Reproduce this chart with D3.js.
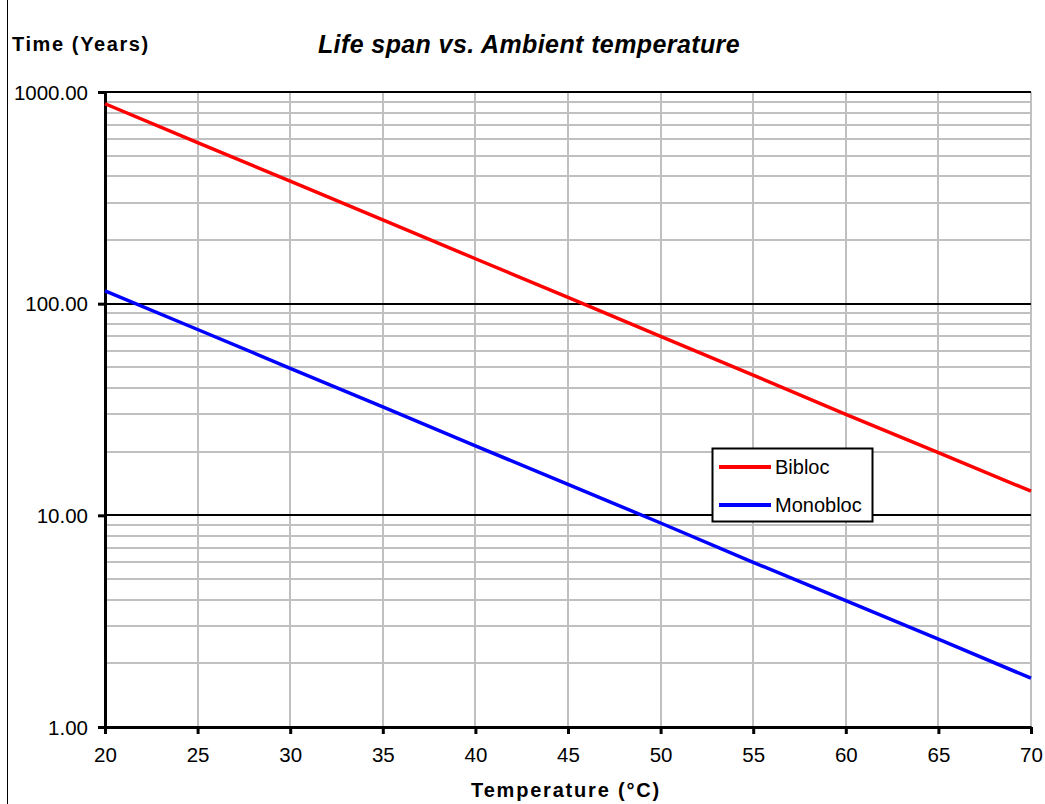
<!DOCTYPE html>
<html>
<head>
<meta charset="utf-8">
<script src="https://cdn.jsdelivr.net/npm/d3@7"></script>
<style>
  body { margin: 0; background: #fff; }
  text { font-family: "Liberation Sans", Arial, sans-serif; }
</style>
</head>
<body>
<script>
// data
var temps = [20, 25, 30, 35, 40, 45, 50, 55, 60, 65, 70];
var bibloc = [880, 577, 379, 249, 163, 107, 70, 46, 30, 19.8, 13];
var monobloc = [115, 75.5, 49.5, 32.5, 21.3, 14, 9.2, 6.0, 3.95, 2.6, 1.7];
var seriesNames = ["Bibloc", "Monobloc"];
var seriesColors = ["#ff0000", "#0000ff"];
var yTicks = [1, 10, 100, 1000];
var xTicks = [20, 25, 30, 35, 40, 45, 50, 55, 60, 65, 70];

var W = 1045, H = 804;
var margin = {top: 92, right: 14, bottom: 77, left: 105},
    width = W - margin.left - margin.right,
    height = H - margin.top - margin.bottom;

var svg = d3.select("body").append("svg")
    .attr("width", W)
    .attr("height", H);

// left frame edge
svg.append("line")
    .attr("x1", 7.5).attr("x2", 7.5)
    .attr("y1", 0).attr("y2", H)
    .attr("stroke", "#000").attr("stroke-width", 1);

var g = svg.append("g")
    .attr("transform", "translate(" + margin.left + "," + margin.top + ")");

var x = d3.scaleLinear().domain([20, 70]).range([0, width]);
var y = d3.scaleLog().domain([1, 1000]).range([height, 0]);

// minor horizontal grid
var minor = [];
[1, 10, 100].forEach(function(d) {
  for (var k = 2; k <= 9; k++) minor.push(d * k);
});
g.selectAll(".hminor").data(minor).enter().append("line")
    .attr("x1", 0).attr("x2", width)
    .attr("y1", function(d) { return Math.round(y(d)); })
    .attr("y2", function(d) { return Math.round(y(d)); })
    .attr("stroke", "#c0c0c0").attr("stroke-width", 2);

// vertical grid
g.selectAll(".vgrid").data(xTicks.slice(1)).enter().append("line")
    .attr("x1", function(d) { return Math.round(x(d)); })
    .attr("x2", function(d) { return Math.round(x(d)); })
    .attr("y1", 0).attr("y2", height)
    .attr("stroke", "#c0c0c0").attr("stroke-width", 2);

// major horizontal grid
g.selectAll(".hmajor").data(yTicks.slice(1)).enter().append("line")
    .attr("x1", 0).attr("x2", width)
    .attr("y1", function(d) { return Math.round(y(d)); })
    .attr("y2", function(d) { return Math.round(y(d)); })
    .attr("stroke", "#000").attr("stroke-width", 2);

// axes
var xAxis = g.append("g")
    .attr("transform", "translate(0," + height + ")")
    .call(d3.axisBottom(x).tickValues(xTicks).tickSize(7).tickSizeOuter(0).tickPadding(13));
var yAxis = g.append("g")
    .call(d3.axisLeft(y).tickValues(yTicks).tickFormat(d3.format(".2f")).tickSize(7).tickSizeOuter(0).tickPadding(10));

[xAxis, yAxis].forEach(function(a) {
  a.select(".domain").attr("stroke", "#000").attr("stroke-width", 3);
  a.selectAll(".tick line").attr("stroke", "#000").attr("stroke-width", 3);
  a.selectAll(".tick text")
      .attr("fill", "#000")
      .style("font-size", "20.5px")
      .style("font-family", "'Liberation Sans', Arial, sans-serif");
});
yAxis.selectAll(".tick text").attr("dy", "0.35em");

// lines
var line = d3.line()
    .x(function(d) { return x(d[0]); })
    .y(function(d) { return y(d[1]); });

[bibloc, monobloc].forEach(function(vals, i) {
  g.append("path")
      .datum(temps.map(function(t, j) { return [t, vals[j]]; }))
      .attr("fill", "none")
      .attr("stroke", seriesColors[i])
      .attr("stroke-width", 3.5)
      .attr("d", line);
});

// legend
var lg = svg.append("g").attr("transform", "translate(712,448)");
lg.append("rect")
    .attr("x", 0.5).attr("y", 0.5)
    .attr("width", 160).attr("height", 73)
    .attr("fill", "#fff").attr("stroke", "#000").attr("stroke-width", 2);
seriesNames.forEach(function(name, i) {
  var yy = 19 + i * 38;
  lg.append("line")
      .attr("x1", 7).attr("x2", 59)
      .attr("y1", yy).attr("y2", yy)
      .attr("stroke", seriesColors[i]).attr("stroke-width", 4);
  lg.append("text")
      .attr("x", 63).attr("y", yy)
      .attr("dy", "0.35em")
      .style("font-size", "20px")
      .text(name);
});

// titles
svg.append("text")
    .attr("x", 529).attr("y", 53)
    .attr("text-anchor", "middle")
    .style("font-size", "25px")
    .style("font-weight", "bold")
    .style("font-style", "italic")
    .style("letter-spacing", "0.4px")
    .text("Life span vs. Ambient temperature");

svg.append("text")
    .attr("x", 12).attr("y", 51)
    .style("font-size", "20px")
    .style("font-weight", "bold")
    .style("letter-spacing", "1.6px")
    .text("Time (Years)");

svg.append("text")
    .attr("x", 566).attr("y", 797)
    .attr("text-anchor", "middle")
    .style("font-size", "20px")
    .style("font-weight", "bold")
    .style("letter-spacing", "1.8px")
    .text("Temperature (°C)");
</script>
</body>
</html>
